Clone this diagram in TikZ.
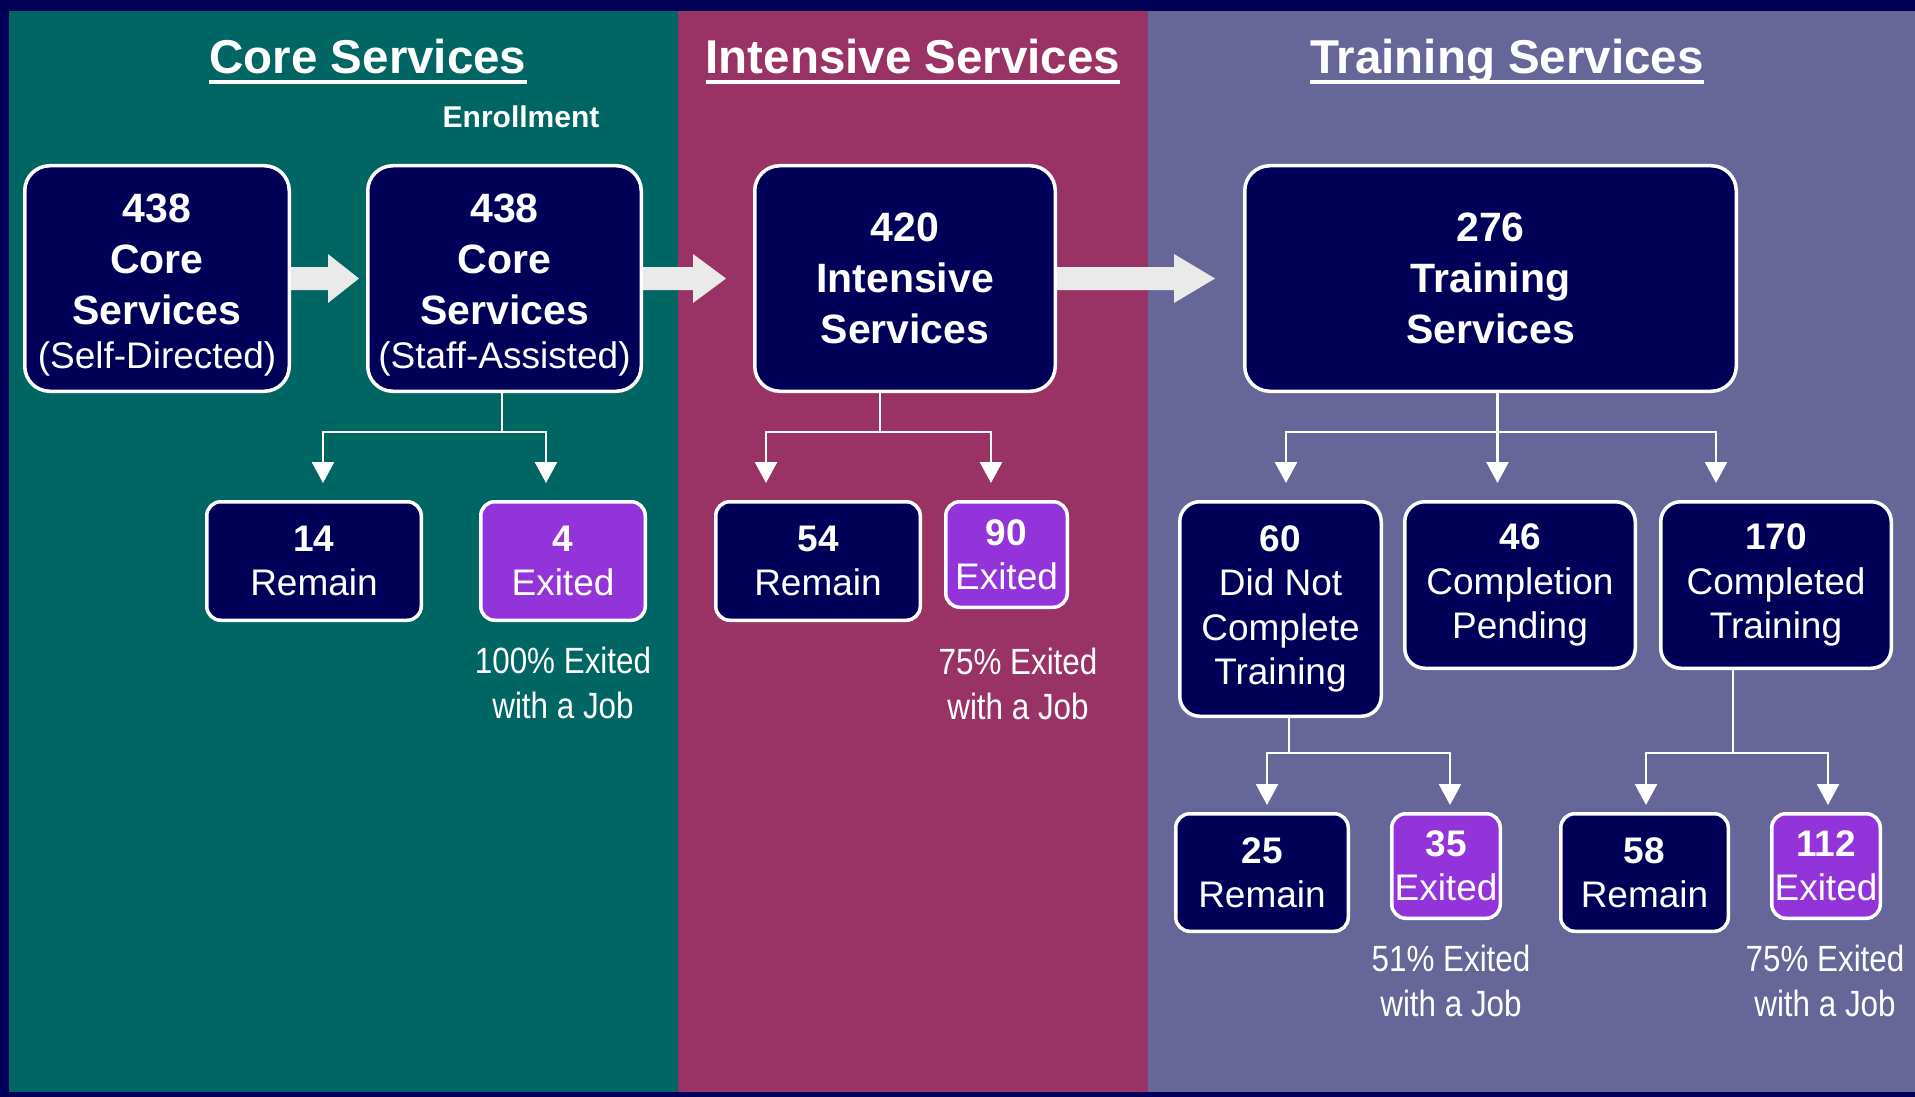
\documentclass[tikz,border=0pt]{standalone}
\usepackage{fontspec}
\setmainfont{Liberation Sans}
\newfontfamily\narrowfont[FakeStretch=0.86]{Liberation Sans}
\usetikzlibrary{arrows.meta,calc}
\definecolor{colNavy}{RGB}{0,0,88}
\definecolor{colTeal}{RGB}{0,102,100}
\definecolor{colMag}{RGB}{153,51,102}
\definecolor{colSlate}{RGB}{102,102,153}
\definecolor{colViolet}{RGB}{147,51,218}
\definecolor{colArrow}{RGB}{234,234,234}
\newcommand\blockarr[3]{%
  \fill[colArrow] let \p1=(#1), \p2=(#2) in
    (\x1,\y1+11.5pt) -- (\x2-#3,\y1+11.5pt) -- (\x2-#3,\y1+24.5pt) -- (\x2,\y1)
    -- (\x2-#3,\y1-24.5pt) -- (\x2-#3,\y1-11.5pt) -- (\x1,\y1-11.5pt) -- cycle;}
\begin{document}
\begin{tikzpicture}[x=1pt,y=-1pt,
  title/.style={text=white, inner sep=0pt, font=\fontsize{47.5}{57}\selectfont\bfseries},
  bigbox/.style={draw=white, line width=3.5pt, fill=colNavy, rounded corners=25pt, text=white,
    align=center, inner sep=0pt, font=\fontsize{41}{51}\selectfont\bfseries},
  midbox/.style={draw=white, line width=3.5pt, fill=colNavy, rounded corners=20pt, text=white,
    align=center, inner sep=0pt, font=\fontsize{37}{44.5}\selectfont},
  smallbox/.style={draw=white, line width=3.5pt, fill=colNavy, rounded corners=14pt, text=white,
    align=center, inner sep=0pt, font=\fontsize{37}{44}\selectfont},
  exitbox/.style={smallbox, fill=colViolet},
  caption/.style={text=white, align=center, inner sep=0pt, font=\narrowfont\fontsize{36.5}{45}\selectfont},
  conn/.style={draw=white, line width=2.5pt},
  arr/.style={conn, -{Triangle[length=21pt,width=22pt]}},
  uline/.style={draw=white, line width=4pt}
]
\useasboundingbox (0,0) rectangle (1915,1097);
% backgrounds
\fill[colNavy] (0,0) rectangle (1915,1097);
\fill[colTeal] (9,11) rectangle (678,1092);
\fill[colMag] (678,11) rectangle (1148,1092);
\fill[colSlate] (1148,11) rectangle (1915,1092);

% titles
\node[title, anchor=base] (t1) at (368,74) {Core Services};
\node[title, anchor=base] (t2) at (913,74) {Intensive Services};
\node[title, anchor=base] (t3) at (1507,74) {Training Services};
\draw[uline] ($(t1.base west)+(0,8)$) -- ($(t1.base east)+(0,8)$);
\draw[uline] ($(t2.base west)+(0,8)$) -- ($(t2.base east)+(0,8)$);
\draw[uline] ($(t3.base west)+(0,8)$) -- ($(t3.base east)+(0,8)$);
\node[text=white, inner sep=0pt, anchor=base, font=\fontsize{30}{36}\selectfont\bfseries] (enr) at (521,128) {Enrollment};

% main boxes
\node[bigbox, minimum width=264.5pt, minimum height=225.5pt] (A) at (157,278.5)
  {\rule{0pt}{41pt}438\\Core\\Services\\[-7pt]{\mdseries\fontsize{37}{44}\selectfont (Self-Directed)}};
\node[bigbox, minimum width=273.5pt, minimum height=225.5pt] (B) at (504.5,278.5)
  {\rule{0pt}{41pt}438\\Core\\Services\\[-7pt]{\mdseries\fontsize{37}{44}\selectfont (Staff-Assisted)}};
\node[bigbox, minimum width=300.5pt, minimum height=225.5pt] (C) at (905,278.5)
  {420\\Intensive\\Services};
\node[bigbox, minimum width=491.5pt, minimum height=225.5pt] (D) at (1490.5,278.5)
  {276\\Training\\Services};

% block arrows
\coordinate (tipAB) at (359,278.5);
\coordinate (tipBC) at (726,278.5);
\coordinate (tipCD) at (1215,278.5);
\blockarr{A.east}{tipAB}{31pt}
\blockarr{B.east}{tipBC}{33pt}
\blockarr{C.east}{tipCD}{41pt}

% second row
\node[smallbox, minimum width=214.5pt, minimum height=118.5pt] (R14) at (314,561) {\textbf{14}\\Remain};
\node[exitbox, minimum width=164.5pt, minimum height=118.5pt] (E4) at (563,561) {\textbf{4}\\Exited};
\node[smallbox, minimum width=204.5pt, minimum height=118.5pt] (R54) at (818,561) {\textbf{54}\\Remain};
\node[exitbox, minimum width=121.5pt, minimum height=105.5pt] (E90) at (1006.5,554.5) {\textbf{90}\\Exited};
\node[midbox, minimum width=201.5pt, minimum height=214.5pt] (N60) at (1280.5,609) {\textbf{60}\\Did Not\\Complete\\Training};
\node[midbox, minimum width=230.5pt, minimum height=166.5pt] (P46) at (1520,585) {\textbf{46}\\Completion\\Pending};
\node[midbox, minimum width=230.5pt, minimum height=166.5pt] (C170) at (1776,585) {\textbf{170}\\Completed\\Training};

% third row
\node[smallbox, minimum width=172.5pt, minimum height=117.5pt] (R25) at (1262,872.5) {\textbf{25}\\Remain};
\node[exitbox, minimum width=108.5pt, minimum height=104.5pt] (E35) at (1446,866) {\textbf{35}\\Exited};
\node[smallbox, minimum width=167.5pt, minimum height=117.5pt] (R58) at (1644.5,872.5) {\textbf{58}\\Remain};
\node[exitbox, minimum width=108.5pt, minimum height=104.5pt] (E112) at (1826,866) {\textbf{112}\\Exited};

% captions
\node[caption] (cap1) at (563,683) {100\% Exited\\with a Job};
\node[caption] (cap2) at (1018,684) {75\% Exited\\with a Job};
\node[caption] (cap3) at (1451,981) {51\% Exited\\with a Job};
\node[caption] (cap4) at (1825,981) {75\% Exited\\with a Job};

% tree connectors
\coordinate (j1) at (502,432);
\coordinate (t1a) at (323,483);
\coordinate (t1b) at (546,483);
\draw[conn] (j1 |- B.south) -- (j1);
\draw[arr] (j1) -| (t1a);
\draw[arr] (j1) -| (t1b);

\coordinate (j2) at (880,432);
\coordinate (t2a) at (766,483);
\coordinate (t2b) at (991,483);
\draw[conn] (j2 |- C.south) -- (j2);
\draw[arr] (j2) -| (t2a);
\draw[arr] (j2) -| (t2b);

\coordinate (j3) at (1497.5,432);
\coordinate (t3a) at (1286,483);
\coordinate (t3b) at (1497.5,483);
\coordinate (t3c) at (1716,483);
\draw[conn] (j3 |- D.south) -- (j3);
\draw[arr] (j3) -| (t3a);
\draw[arr] (j3) -- (t3b);
\draw[arr] (j3) -| (t3c);

\coordinate (j4) at (1289,753);
\coordinate (t4a) at (1267,805);
\coordinate (t4b) at (1450,805);
\draw[conn] (j4 |- N60.south) -- (j4);
\draw[arr] (j4) -| (t4a);
\draw[arr] (j4) -| (t4b);

\coordinate (j5) at (1733,753);
\coordinate (t5a) at (1646,805);
\coordinate (t5b) at (1828,805);
\draw[conn] (j5 |- C170.south) -- (j5);
\draw[arr] (j5) -| (t5a);
\draw[arr] (j5) -| (t5b);
\end{tikzpicture}
\end{document}
